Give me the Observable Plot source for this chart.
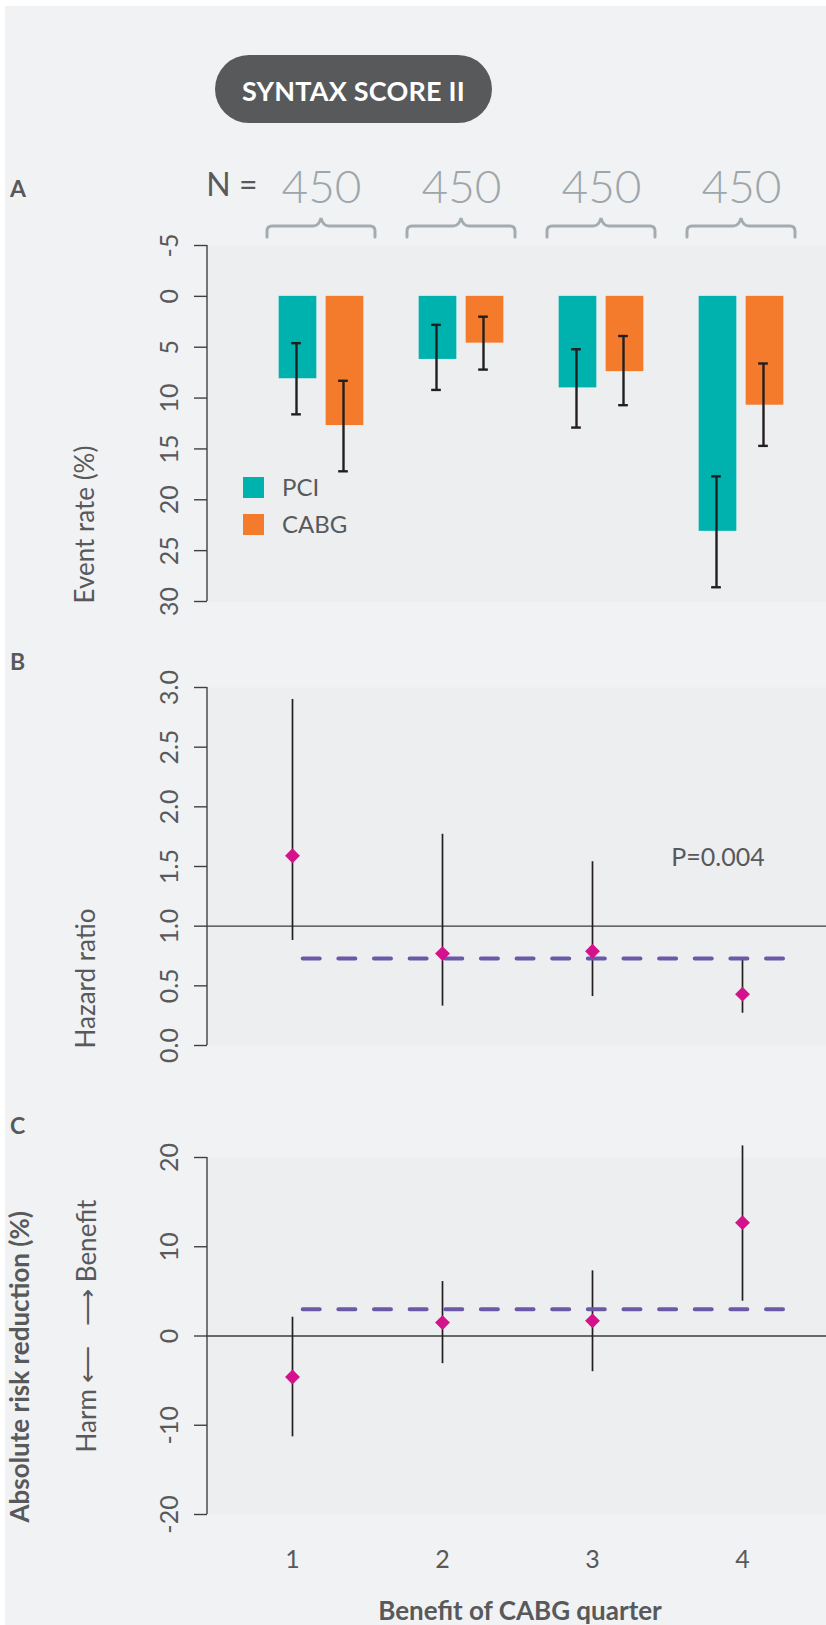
<!DOCTYPE html>
<html>
<head>
<meta charset="utf-8">
<script src="https://cdn.jsdelivr.net/npm/d3@7"></script>
<script src="https://cdn.jsdelivr.net/npm/@observablehq/plot@0.6"></script>
<style>
  html, body { margin: 0; padding: 0; background: #ffffff; }
  #page { position: relative; width: 826px; height: 1625px; overflow: hidden;
          font-family: Lato, "Noto Sans", sans-serif; color: #58595b; }
  #bg { position: absolute; left: 5px; top: 6px; right: 0; bottom: 0; background: #f1f2f4; }
  .abs { position: absolute; }
  .chart { left: 0; width: 826px; }
  #pill { left: 215px; top: 55px; width: 277px; height: 68px; border-radius: 34px;
          background: #58595b; color: #ffffff; font-weight: 700; font-size: 27px;
          display: flex; align-items: center; justify-content: center; box-sizing: border-box;
          padding-top: 3px; letter-spacing: 0.2px; }
  .letter { left: 10px; font-weight: 700; font-size: 23px; line-height: 1; }
  #legendA { left: 243px; top: 473px; }
  #legendA .key-swatch { padding-bottom: 9px; margin: 0; overflow: visible; }
  #legendA .key-swatch > * { overflow: visible; }
  #legendA .key-swatch svg { margin-right: 18px; }
</style>
</head>
<body>
<div id="page">
  <div id="bg"></div>
  <div id="pill" class="abs">SYNTAX SCORE II</div>
  <div class="abs letter" style="top:177px">A</div>
  <div class="abs letter" style="top:650px">B</div>
  <div class="abs letter" style="top:1114px">C</div>
  <div id="chartA" class="abs chart" style="top:150px"></div>
  <div id="legendA" class="abs"></div>
  <div id="chartB" class="abs chart" style="top:640px"></div>
  <div id="chartC" class="abs chart" style="top:1100px"></div>
</div>
<script>
// Quarters of predicted CABG benefit and patients per quarter
const quarters = [1, 2, 3, 4];
const groupN = [450, 450, 450, 450];
const series = ["PCI", "CABG"];

// A: event rates (%) with confidence limits
const pciRate = [8.1, 6.2, 9.0, 23.1];
const pciLow = [4.6, 2.8, 5.2, 17.7];
const pciHigh = [11.6, 9.2, 12.9, 28.6];
const cabgRate = [12.7, 4.6, 7.4, 10.7];
const cabgLow = [8.3, 2.0, 3.9, 6.6];
const cabgHigh = [17.2, 7.2, 10.7, 14.7];
const rateTicks = [-5, 0, 5, 10, 15, 20, 25, 30];

// B: hazard ratios (CABG vs PCI) with confidence limits
const hazard = [1.59, 0.77, 0.79, 0.43];
const hazardLow = [0.88, 0.33, 0.41, 0.27];
const hazardHigh = [2.90, 1.77, 1.54, 0.72];
const hazardOverall = 0.73;
const hazardP = "P=0.004";
const hazardTicks = [0, 0.5, 1, 1.5, 2, 2.5, 3];

// C: absolute risk reduction (%) with confidence limits
const arr = [-4.6, 1.5, 1.7, 12.7];
const arrLow = [-11.3, -3.1, -4.0, 3.9];
const arrHigh = [2.1, 6.1, 7.3, 21.3];
const arrOverall = 3.0;
const arrTicks = [-20, -10, 0, 10, 20];

// Colours
const ink = "#58595b";
const axisInk = "#404042";
const panelBg = "#edeef0";
const teal = "#00b2ae";
const orange = "#f47a2c";
const errInk = "#231f20";
const magenta = "#d3128b";
const purple = "#6b58a7";
const nGray = "#9ca6ab";
const braceGray = "#a3acb0";

const NS = "http://www.w3.org/2000/svg";
const baseStyle = {background: "transparent", fontFamily: "Lato, 'Noto Sans', sans-serif",
                   fontWeight: 400, color: ink, overflow: "visible"};

const rates = quarters.flatMap((q, i) => [
  {q, series: "PCI", rate: pciRate[i], lo: pciLow[i], hi: pciHigh[i]},
  {q, series: "CABG", rate: cabgRate[i], lo: cabgLow[i], hi: cabgHigh[i]}
]);
const hazards = quarters.map((q, i) => ({q, est: hazard[i], lo: hazardLow[i], hi: hazardHigh[i]}));
const risks = quarters.map((q, i) => ({q, est: arr[i], lo: arrLow[i], hi: arrHigh[i]}));

// vertical axis line along the left edge of the frame
function axisLine(index, scales, values, dims) {
  const l = document.createElementNS(NS, "line");
  l.setAttribute("x1", dims.marginLeft);
  l.setAttribute("x2", dims.marginLeft);
  l.setAttribute("y1", dims.marginTop);
  l.setAttribute("y2", dims.height - dims.marginBottom);
  l.setAttribute("stroke", axisInk);
  l.setAttribute("stroke-width", 1.4);
  return l;
}

// curly braces grouping each pair of bars under its N label
function groupBraces(index, scales) {
  const x = scales.x;
  const g = document.createElementNS(NS, "g");
  g.setAttribute("fill", "none");
  g.setAttribute("stroke", braceGray);
  g.setAttribute("stroke-width", 3);
  g.setAttribute("stroke-linecap", "round");
  const w = 54, tip = 68, bar = 76, leg = 87;
  for (const q of quarters) {
    const c = x(q) + x.bandwidth() / 2;
    const p = document.createElementNS(NS, "path");
    p.setAttribute("d",
      `M${c - w},${leg}L${c - w},${bar + 5}Q${c - w},${bar} ${c - w + 5},${bar}` +
      `L${c - 8},${bar}Q${c - 2},${bar} ${c},${tip}Q${c + 2},${bar} ${c + 8},${bar}` +
      `L${c + w - 5},${bar}Q${c + w},${bar} ${c + w},${bar + 5}L${c + w},${leg}`);
    g.appendChild(p);
  }
  return g;
}

const yTitle = (text, dx, dy, extra = {}) =>
  Plot.text([text], {frameAnchor: "bottom-left", rotate: -90, textAnchor: "start",
    lineAnchor: "middle", dx, dy, fontSize: 26, fill: ink, ...extra});

// ---- A: event rates ----
const band = 140.33, barW = 38, barOff = 23.5;
const inNear = band / 2 - barOff - barW / 2;
const inFar = band / 2 + barOff - barW / 2;
const capIn = band / 2 - 5;
const isPCI = d => d.series === "PCI";
const isCABG = d => d.series === "CABG";

const plotA = Plot.plot({
  width: 826, height: 461,
  marginTop: 95, marginBottom: 10, marginLeft: 207, marginRight: 0,
  style: baseStyle,
  x: {type: "band", domain: quarters, range: [250.35, 811.65], padding: 0, axis: null},
  y: {domain: [-5, 30], reverse: true, axis: null},
  color: {domain: series, range: [teal, orange]},
  marks: [
    Plot.frame({fill: panelBg, stroke: "none"}),
    axisLine,
    Plot.axisY({ticks: rateTicks, tickFormat: d => `${d}`, tickSize: 13, tickPadding: 17,
      tickRotate: -90, fontSize: 25, fill: ink, stroke: axisInk, strokeWidth: 1.4, label: null}),
    Plot.barY(rates, {filter: isPCI, x: "q", y1: 0, y2: "rate", fill: "series",
      insetLeft: inNear, insetRight: inFar}),
    Plot.barY(rates, {filter: isCABG, x: "q", y1: 0, y2: "rate", fill: "series",
      insetLeft: inFar, insetRight: inNear}),
    Plot.ruleX(rates, {filter: isPCI, x: "q", y1: "lo", y2: "hi", dx: -25, stroke: errInk, strokeWidth: 2.4}),
    Plot.ruleX(rates, {filter: isCABG, x: "q", y1: "lo", y2: "hi", dx: 22, stroke: errInk, strokeWidth: 2.4}),
    Plot.tickY(rates, {filter: isPCI, x: "q", y: "lo", dx: -25, insetLeft: capIn, insetRight: capIn, stroke: errInk, strokeWidth: 2.4}),
    Plot.tickY(rates, {filter: isPCI, x: "q", y: "hi", dx: -25, insetLeft: capIn, insetRight: capIn, stroke: errInk, strokeWidth: 2.4}),
    Plot.tickY(rates, {filter: isCABG, x: "q", y: "lo", dx: 22, insetLeft: capIn, insetRight: capIn, stroke: errInk, strokeWidth: 2.4}),
    Plot.tickY(rates, {filter: isCABG, x: "q", y: "hi", dx: 22, insetLeft: capIn, insetRight: capIn, stroke: errInk, strokeWidth: 2.4}),
    Plot.text(quarters, {x: d => d, text: (d, i) => `${groupN[i]}`, frameAnchor: "top",
      lineAnchor: "bottom", dy: -43, fontSize: 46, fontWeight: 300, fill: nGray}),
    Plot.text(["N ="], {frameAnchor: "top-left", textAnchor: "end", lineAnchor: "bottom",
      dx: 50, dy: -50, fontSize: 32, fill: ink}),
    groupBraces,
    yTitle("Event rate (%)", -122, 2)
  ]
});
document.getElementById("chartA").appendChild(plotA);

const legendA = plotA.legend("color", {
  legend: "swatches", columns: 1, swatchSize: 21, className: "key",
  style: {fontFamily: "Lato, 'Noto Sans', sans-serif", fontSize: "24px", fontWeight: 400,
          color: ink, lineHeight: "28px", margin: 0}
});
document.getElementById("legendA").appendChild(legendA);

// ---- shared x scale for B and C ----
const xPoint = {type: "point", domain: quarters, padding: 0.562};

// ---- B: hazard ratio ----
const plotB = Plot.plot({
  width: 826, height: 417,
  marginTop: 47, marginBottom: 12, marginLeft: 207, marginRight: 0,
  style: baseStyle,
  x: {...xPoint, axis: null},
  y: {domain: [0, 3], axis: null},
  marks: [
    Plot.frame({fill: panelBg, stroke: "none"}),
    axisLine,
    Plot.axisY({ticks: hazardTicks, tickFormat: d => d.toFixed(1), tickSize: 13, tickPadding: 17,
      tickRotate: -90, fontSize: 25, fill: ink, stroke: axisInk, strokeWidth: 1.4, label: null}),
    Plot.ruleY([1], {stroke: "#3a3a3c", strokeWidth: 1.3}),
    Plot.ruleX(hazards, {x: "q", y1: "lo", y2: "hi", stroke: errInk, strokeWidth: 1.7}),
    Plot.ruleY([hazardOverall], {stroke: purple, strokeWidth: 4, strokeLinecap: "round",
      strokeDasharray: "17,18.64", insetLeft: 95.7, insetRight: 43}),
    Plot.dot(hazards, {x: "q", y: "est", symbol: "diamond2", r: 6.7, fill: magenta, stroke: "none"}),
    Plot.text([hazardP], {frameAnchor: "top-right", textAnchor: "middle", lineAnchor: "bottom",
      dx: -108.5, dy: 178, fontSize: 25, fill: ink}),
    yTitle("Hazard ratio", -121, 3)
  ]
});
document.getElementById("chartB").appendChild(plotB);

// ---- C: absolute risk reduction ----
const plotC = Plot.plot({
  width: 826, height: 525,
  marginTop: 57, marginBottom: 111, marginLeft: 207, marginRight: 0,
  style: baseStyle,
  x: {...xPoint, axis: null},
  y: {domain: [-20, 20], axis: null},
  marks: [
    Plot.frame({fill: panelBg, stroke: "none"}),
    axisLine,
    Plot.axisY({ticks: arrTicks, tickFormat: d => `${d}`, tickSize: 13, tickPadding: 17,
      tickRotate: -90, fontSize: 25, fill: ink, stroke: axisInk, strokeWidth: 1.4, label: null}),
    Plot.axisX({tickSize: 0, tickPadding: 36, tickFormat: d => `${d}`, fontSize: 25, fill: ink, label: null}),
    Plot.ruleY([0], {stroke: "#3a3a3c", strokeWidth: 1.3}),
    Plot.ruleX(risks, {x: "q", y1: "lo", y2: "hi", stroke: errInk, strokeWidth: 1.7}),
    Plot.ruleY([arrOverall], {stroke: purple, strokeWidth: 4, strokeLinecap: "round",
      strokeDasharray: "17,18.64", insetLeft: 95.7, insetRight: 43}),
    Plot.dot(risks, {x: "q", y: "est", symbol: "diamond2", r: 6.7, fill: magenta, stroke: "none"}),
    Plot.text(["Benefit of CABG quarter"], {frameAnchor: "bottom", lineAnchor: "bottom",
      dx: 3, dy: 105, fontSize: 26, fontWeight: 700, fill: ink}),
    Plot.text([0], {y: d => d, frameAnchor: "left", text: () => "Harm \u27F5 \u2002\u27F6 Benefit",
      rotate: -90, textAnchor: "middle", lineAnchor: "middle", dx: -120, dy: -10, fontSize: 26, fill: ink}),
    yTitle("Absolute risk reduction (%)", -187, 8, {fontSize: 26, fontWeight: 700})
  ]
});
document.getElementById("chartC").appendChild(plotC);
</script>
</body>
</html>
